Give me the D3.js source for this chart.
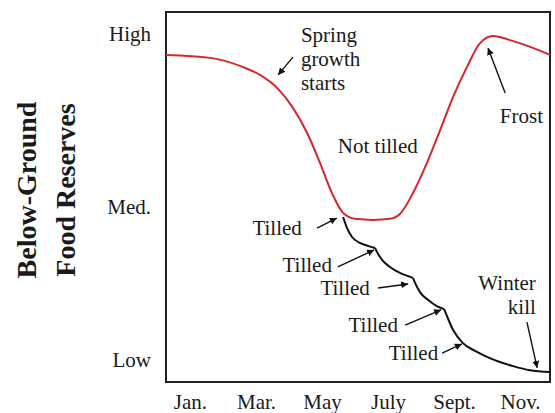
<!DOCTYPE html>
<html>
<head>
<meta charset="utf-8">
<script src="https://cdn.jsdelivr.net/npm/d3@7"></script>
<style>
  html, body { margin: 0; padding: 0; background: #fff; }
  svg { display: block; }
  text { font-family: "Liberation Serif", "Times New Roman", serif; fill: #1a1a1a; }
</style>
</head>
<body>
<svg id="chart" width="555" height="413"></svg>
<script>
// ---- Data (month index: Jan = 0 ... Dec = 11; reserve level 0-100) ----
const monthTicks = [0, 2, 4, 6, 8, 10];
const monthLabels = ["Jan.", "Mar.", "May", "July", "Sept.", "Nov."];
const levelTicks = [5.9, 47.3, 94.1];
const levelLabels = ["Low", "Med.", "High"];

// Not tilled (red)
const notTilledMonth = [-0.73, 0.61, 1.61, 2.12, 2.64, 3.12, 3.55, 3.94, 4.33, 4.64, 5.0, 5.55, 6.06, 6.36, 6.76, 7.18, 7.58, 7.97, 8.39, 8.79, 9.18, 9.70, 10.39, 10.91];
const notTilledLevel = [88.4, 87.6, 85.1, 83.0, 79.5, 74.1, 67.3, 59.2, 50.5, 45.7, 44.1, 43.8, 44.1, 45.4, 51.1, 59.2, 68.1, 77.0, 85.1, 91.6, 93.5, 92.4, 90.3, 88.4];

// Tilled (black) - one scallop between successive tillings
const tilledSegMonth = [
  [4.64, 4.76, 4.91, 5.15, 5.39, 5.61],
  [5.61, 5.67, 5.82, 6.06, 6.36, 6.61, 6.76],
  [6.76, 6.82, 6.97, 7.21, 7.48, 7.70],
  [7.70, 7.76, 7.97, 8.27, 8.64, 9.0, 9.39, 9.79, 10.3, 10.91]
];
const tilledSegLevel = [
  [44.6, 41.6, 39.2, 37.6, 36.8, 36.2],
  [36.2, 35.1, 33.0, 31.1, 29.5, 28.6, 28.1],
  [28.1, 26.8, 24.3, 22.2, 20.5, 19.7],
  [19.7, 18.4, 14.1, 10.5, 8.4, 6.8, 5.4, 4.3, 3.2, 2.7]
];

// Annotations (data units)
const labelTexts = [["Spring", "growth", "starts"], ["Not tilled"], ["Frost"], ["Tilled"], ["Tilled"], ["Tilled"], ["Tilled"], ["Tilled"], ["Winter", "kill"]];
const labelMonth = [3.36, 4.48, 9.39, 3.39, 4.30, 5.45, 6.30, 7.52, 10.48];
const labelLevel = [91.9, 61.9, 70.0, 39.7, 29.7, 23.5, 13.5, 5.9, 24.9];
const labelAnchor = ["start", "start", "start", "end", "end", "end", "end", "end", "end"];

const arrowFromMonth = [3.12, 9.55, 3.85, 4.48, 5.70, 6.52, 7.64, 10.21];
const arrowFromLevel = [87.8, 78.1, 41.6, 31.1, 25.4, 15.4, 7.8, 16.2];
const arrowToMonth   = [2.67, 9.03, 4.45, 5.58, 6.61, 7.61, 8.24, 10.52];
const arrowToLevel   = [83.0, 90.3, 44.3, 35.7, 26.5, 19.5, 10.3, 3.8];

// ---- Layout ----
const svg = d3.select("#chart");
const plot = { left: 166, right: 550, top: 12, bottom: 382 };

const x = d3.scaleLinear().domain([-0.727, 10.909]).range([plot.left, plot.right]);
const y = d3.scaleLinear().domain([0, 100]).range([plot.bottom, plot.top]);

const defs = svg.append("defs");
defs.append("marker")
  .attr("id", "ah")
  .attr("viewBox", "0 0 10 10")
  .attr("refX", 10).attr("refY", 5)
  .attr("markerWidth", 7).attr("markerHeight", 7)
  .attr("markerUnits", "userSpaceOnUse")
  .attr("orient", "auto")
  .append("path").attr("d", "M0,0 L10,5 L0,10 Z").attr("fill", "#111");

// Axes
const xAxis = d3.axisBottom(x).tickValues(monthTicks)
  .tickFormat((d, i) => monthLabels[i]).tickSize(0).tickPadding(12);
const gx = svg.append("g").attr("transform", `translate(0,${plot.bottom})`).call(xAxis);
gx.select(".domain").remove();
gx.selectAll("text").style("font-family", "'Liberation Serif', serif").style("font-size", "21px").attr("fill", "#1a1a1a");

const yAxis = d3.axisLeft(y).tickValues(levelTicks)
  .tickFormat((d, i) => levelLabels[i]).tickSize(0).tickPadding(15);
const gy = svg.append("g").attr("transform", `translate(${plot.left},0)`).call(yAxis);
gy.select(".domain").remove();
gy.selectAll("text").style("font-family", "'Liberation Serif', serif").style("font-size", "21px").attr("fill", "#1a1a1a");

// Y title
const yt = svg.append("text")
  .attr("transform", "translate(0,190) rotate(-90)")
  .attr("text-anchor", "middle")
  .style("font-size", "28px").style("font-weight", "bold");
yt.append("tspan").attr("x", 0).attr("y", 36).text("Below-Ground");
yt.append("tspan").attr("x", 0).attr("y", 75).text("Food Reserves");

// Frame
svg.append("rect")
  .attr("x", plot.left).attr("y", plot.top)
  .attr("width", plot.right - plot.left).attr("height", plot.bottom - plot.top)
  .attr("fill", "none").attr("stroke", "#222").attr("stroke-width", 2);

// Curves
const redData = notTilledMonth.map((m, i) => [m, notTilledLevel[i]]);
const line = d3.line().x(d => x(d[0])).y(d => y(d[1]));

svg.append("path")
  .datum(redData)
  .attr("d", line.curve(d3.curveMonotoneX))
  .attr("fill", "none").attr("stroke", "#d7262e").attr("stroke-width", 2);

tilledSegMonth.forEach((seg, k) => {
  const data = seg.map((m, i) => [m, tilledSegLevel[k][i]]);
  svg.append("path")
    .datum(data)
    .attr("d", d3.line().x(d => x(d[0])).y(d => y(d[1])).curve(d3.curveMonotoneX)(data))
    .attr("fill", "none").attr("stroke", "#111").attr("stroke-width", 2);
});

// Labels
labelTexts.forEach((lines, i) => {
  const t = svg.append("text")
    .attr("text-anchor", labelAnchor[i])
    .style("font-size", "21px");
  lines.forEach((ln, j) => {
    t.append("tspan")
      .attr("x", x(labelMonth[i]))
      .attr("y", y(labelLevel[i]) + j * 24)
      .text(ln);
  });
});

// Arrows
arrowFromMonth.forEach((m, i) => {
  svg.append("line")
    .attr("x1", x(m)).attr("y1", y(arrowFromLevel[i]))
    .attr("x2", x(arrowToMonth[i])).attr("y2", y(arrowToLevel[i]))
    .attr("stroke", "#111").attr("stroke-width", 1.4)
    .attr("marker-end", "url(#ah)");
});
</script>
</body>
</html>
